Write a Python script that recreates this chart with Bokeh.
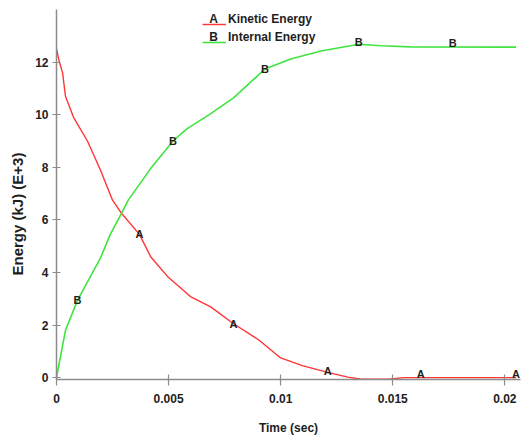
from bokeh.plotting import figure
from bokeh.models import (ColumnDataSource, FixedTicker, Range1d, Legend, LegendItem, Label, Title)
from bokeh.core.properties import value
from bokeh.embed import file_html
from bokeh.resources import INLINE

# ---- data ----
t_kinetic = [0, 0.00013, 0.00027, 0.0004, 0.00076, 0.00138, 0.00196, 0.0025, 0.0029,
             0.0037, 0.0042, 0.00495, 0.006, 0.00688, 0.0079, 0.009, 0.01, 0.011,
             0.0121, 0.013, 0.0136, 0.0148, 0.0155, 0.0205]
e_kinetic = [12.5, 12.0, 11.6, 10.7, 9.9, 9.0, 7.9, 6.75, 6.25,
             5.45, 4.6, 3.85, 3.07, 2.69, 2.05, 1.45, 0.75, 0.45,
             0.2, 0.02, -0.06, -0.06, 0.0, 0.0]

t_internal = [0, 0.0004, 0.00094, 0.00196, 0.0024, 0.0029, 0.0032, 0.0042, 0.0052,
              0.0058, 0.00688, 0.0079, 0.0093, 0.01045, 0.0118, 0.01348, 0.0145,
              0.0158, 0.0205]
e_internal = [0, 1.8, 2.95, 4.55, 5.45, 6.25, 6.75, 7.95, 9.0,
              9.45, 10.04, 10.64, 11.74, 12.12, 12.42, 12.68, 12.62,
              12.58, 12.57]

t_marks_a = [0.0037, 0.0079, 0.0121, 0.01625, 0.0205]
e_marks_a = [5.45, 2.05, 0.27, 0.15, 0.15]
t_marks_b = [0.00094, 0.0052, 0.0093, 0.01348, 0.01768]
e_marks_b = [2.95, 9.0, 11.74, 12.77, 12.73]

x_ticks = [0, 0.005, 0.01, 0.015, 0.02]
x_tick_labels = ["0", "0.005", "0.01", "0.015", "0.02"]
y_ticks = [0, 2, 4, 6, 8, 10, 12]

series_names = ["Kinetic Energy", "Internal Energy"]
series_letters = ["A", "B"]
x_title = "Time (sec)"
y_title = "Energy (kJ) (E+3)"

RED = "#ff3535"
GREEN = "#40e440"
FONT = "Liberation Sans"
TXT = "#1e1e1e"

p = figure(frame_width=464, frame_height=370, output_backend="svg",
           toolbar_location=None, x_range=Range1d(0, 0.0207), y_range=Range1d(-0.07, 14.0),
           min_border_left=56, min_border_right=1, min_border_top=9, min_border_bottom=58)
p.outline_line_color = None
p.grid.visible = False
p.background_fill_color = "white"
p.border_fill_color = "white"

r1 = p.line(t_kinetic, e_kinetic, line_color=RED, line_width=1.4)
r2 = p.line(t_internal, e_internal, line_color=GREEN, line_width=1.6)

src_a = ColumnDataSource(dict(x=t_marks_a, y=e_marks_a, t=[series_letters[0]] * len(t_marks_a)))
src_b = ColumnDataSource(dict(x=t_marks_b, y=e_marks_b, t=[series_letters[1]] * len(t_marks_b)))
for s in (src_a, src_b):
    p.text(x="x", y="y", text="t", source=s, text_font=value(FONT), text_font_style="bold",
           text_font_size="11px", text_color=TXT, text_align="center", text_baseline="middle")

# axes
for ax in (p.xaxis[0], p.yaxis[0]):
    ax.axis_line_color = "#8c8c8c"
    ax.axis_line_width = 1.5
    ax.major_tick_line_color = "#8c8c8c"
    ax.major_tick_line_width = 1.2
    ax.minor_tick_line_color = None
    ax.major_label_text_font = FONT
    ax.major_label_text_font_style = "bold"
    ax.major_label_text_font_size = "12px"
    ax.major_label_text_color = TXT
    ax.axis_label_text_font = FONT
    ax.axis_label_text_font_style = "bold"
    ax.axis_label_text_font_size = "12px"
    ax.axis_label_text_color = TXT

p.xaxis[0].ticker = FixedTicker(ticks=x_ticks)
p.xaxis[0].major_label_overrides = {t: l for t, l in zip(x_ticks, x_tick_labels)}
p.xaxis[0].major_tick_in = 5
p.xaxis[0].major_tick_out = 6
p.xaxis[0].major_label_standoff = 8
p.xaxis[0].axis_label = x_title
p.xaxis[0].axis_label_standoff = 15

p.yaxis[0].ticker = FixedTicker(ticks=y_ticks)
p.yaxis[0].major_tick_in = 4
p.yaxis[0].major_tick_out = 4
p.yaxis[0].major_label_standoff = 4

# y title in the left panel, starting a little above the frame bottom (as in the reference)
p.add_layout(Title(text=y_title, align="left", offset=104, vertical_align="middle",
                   text_font=FONT, text_font_style="bold", text_font_size="15px",
                   text_color=TXT, standoff=11), "left")

# legend: lines (real renderers) drawn a few pixels below their labels, as in the reference
dummy1 = p.line(x=[], y=[], line_alpha=0)
dummy2 = p.line(x=[], y=[], line_alpha=0)
common = dict(orientation="vertical", glyph_width=24, glyph_height=18, label_height=14,
              label_standoff=2, spacing=0, padding=0, margin=0, border_line_color=None,
              background_fill_alpha=0, label_text_font=FONT, label_text_font_style="bold",
              label_text_font_size="12px", label_text_color=TXT)
legend_lines = Legend(items=[LegendItem(label=" ", renderers=[r1]),
                             LegendItem(label=" ", renderers=[r2])],
                      location=(146, 328), **common)
legend_text = Legend(items=[LegendItem(label=series_names[0], renderers=[dummy1]),
                            LegendItem(label=series_names[1], renderers=[dummy2])],
                     location=(146, 333), **common)
p.add_layout(legend_lines)
p.add_layout(legend_text)

for i, letter in enumerate(series_letters):
    p.add_layout(Label(x=0.00701, y=13.62 - i * 0.68, text=letter, text_font=FONT,
                       text_font_style="bold", text_font_size="12px", text_color=TXT,
                       text_align="center", text_baseline="middle"))

open("out.html", "w").write(file_html(p, INLINE))
